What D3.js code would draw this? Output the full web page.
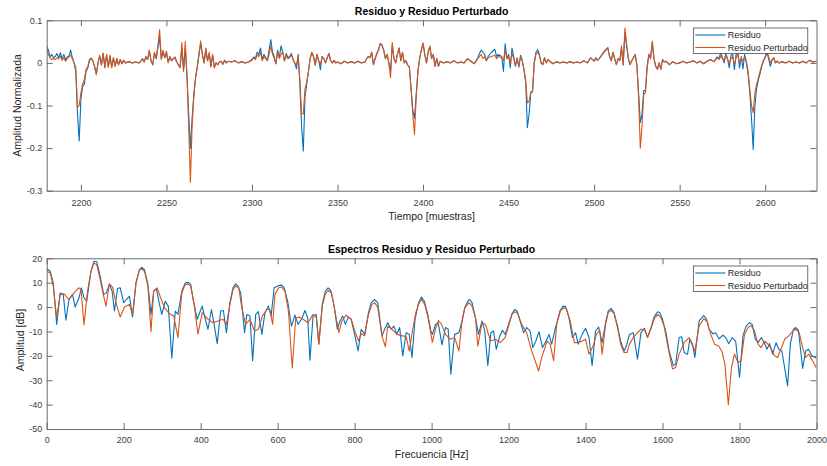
<!DOCTYPE html>
<html>
<head>
<meta charset="utf-8">
<script src="https://cdn.jsdelivr.net/npm/d3@7"></script>
<style>
  body { margin: 0; background: #fff; }
  svg text { font-family: "Liberation Sans", Arial, Helvetica, sans-serif; }
</style>
</head>
<body>
<svg id="fig" width="827" height="466"></svg>
<script>
// ---- Residuo en el tiempo (muestras) ----
const muestras = [
  2180,2181,2182,2183,2184,2185,2186,2187,2188,2189,
  2190,2191,2192,2193,2194,2195,2196,2197,2198,2199,
  2200,2201,2202,2203,2204,2205,2206,2207,2208,2209,
  2210,2211,2212,2213,2214,2215,2216,2217,2218,2219,
  2220,2221,2222,2223,2224,2225,2226,2228,2230,2232,
  2234,2235,2236,2237,2238,2239,2240,2241,2242,2243,
  2244,2245,2246,2247,2248,2249,2250,2251,2252,2253,
  2254,2255,2256,2257,2258,2259,2260,2261,2262,2263,
  2264,2265,2266,2267,2268,2269,2270,2271,2272,2273,
  2274,2275,2276,2277,2278,2279,2280,2281,2282,2283,
  2284,2285,2286,2288,2290,2292,2294,2296,2298,2300,
  2301,2302,2303,2304,2305,2306,2307,2308,2309,2310,
  2311,2312,2313,2314,2315,2316,2317,2318,2319,2320,
  2321,2322,2323,2324,2325,2326,2327,2328,2329,2330,
  2331,2332,2333,2334,2335,2336,2337,2338,2339,2340,
  2341,2342,2343,2344,2345,2346,2347,2348,2349,2350,
  2352,2354,2356,2358,2360,2362,2364,2366,2367,2368,
  2369,2370,2371,2372,2373,2374,2375,2376,2377,2378,
  2379,2380,2381,2382,2383,2384,2385,2386,2387,2388,
  2389,2390,2391,2392,2393,2394,2395,2396,2397,2398,
  2399,2400,2401,2402,2403,2404,2405,2406,2407,2408,
  2409,2410,2412,2414,2416,2418,2420,2422,2424,2426,
  2428,2430,2432,2433,2434,2435,2436,2437,2438,2440,
  2442,2443,2444,2446,2447,2448,2449,2450,2451,2452,
  2453,2454,2455,2456,2457,2458,2459,2460,2461,2462,
  2463,2464,2465,2466,2467,2468,2469,2470,2471,2472,
  2473,2474,2476,2478,2480,2482,2484,2486,2488,2490,
  2492,2494,2496,2498,2500,2501,2502,2503,2504,2505,
  2506,2507,2508,2509,2510,2511,2512,2513,2514,2515,
  2516,2517,2518,2519,2520,2521,2522,2523,2524,2525,
  2526,2527,2528,2529,2530,2531,2532,2533,2534,2535,
  2536,2537,2538,2539,2540,2541,2542,2543,2544,2546,
  2548,2550,2552,2554,2556,2558,2560,2562,2564,2566,
  2568,2570,2572,2573,2574,2575,2576,2577,2578,2579,
  2580,2581,2582,2583,2584,2585,2586,2587,2588,2589,
  2590,2591,2592,2593,2594,2595,2596,2597,2598,2599,
  2600,2601,2602,2603,2604,2605,2606,2607,2608,2610,
  2612,2614,2616,2618,2620,2622,2624,2626,2628,2630
];

const residuo = [
  0.039,0.03,0.014,0.02,0.012,0.015,0.022,0.012,0.024,0.01,
  0.02,0.008,0.014,0.016,0.03,0.012,0,-0.02,-0.12,-0.183,
  -0.085,-0.055,-0.05,-0.02,-0.012,0.006,0.01,0.004,-0.008,-0.026,
  0,0.016,-0.005,0.022,-0.01,0.018,-0.01,0.016,-0.01,0.012,
  -0.008,0.01,-0.004,0.008,-0.002,0.006,0,0.003,0,0.002,
  0,0.004,0.01,0.002,0.014,0.008,0.028,0.005,-0.004,0.022,
  0.01,0.035,0.06,0.01,0.026,0.012,0.024,0.002,0.014,0.005,
  0.01,0.012,0.002,-0.004,-0.01,0.035,-0.018,0.035,-0.03,-0.12,
  -0.2,-0.13,-0.075,-0.035,-0.01,0.02,0.045,0.02,0,0.03,
  0.005,0.022,-0.008,0.018,-0.01,0,-0.004,0.002,0.004,-0.003,
  0.006,0,0.004,0.002,0.005,0,0.003,0,0.002,0.008,
  0.014,0.01,0.025,0.02,0.035,0.008,0.02,0.012,0.006,0.03,
  0.055,0.025,0.015,-0.002,0.03,0.012,0.04,0.025,0.005,0.022,
  0.012,0.015,0.022,0.008,0,-0.014,0.02,-0.05,-0.15,-0.207,
  -0.08,-0.05,-0.02,0.01,0.024,0.014,-0.005,0.02,0.005,-0.016,
  0.015,0.01,0,0.012,0.022,0.005,0,0.006,0,0.002,
  -0.002,0.004,0,0.003,0,0.004,0,0.002,0.01,0.015,
  0.012,0.025,-0.004,0.01,0.022,0.032,0.046,0.042,0.03,0.01,
  0.02,0,-0.02,0.042,0.01,0,0.02,0.035,0.005,0.025,
  0,0.005,-0.005,-0.01,-0.06,-0.11,-0.13,-0.075,-0.02,0.01,
  0.03,0.045,0.02,0,0.025,0.038,0.01,0.02,-0.008,0.01,
  -0.008,0.004,0,0.003,0,0.005,0,0.002,0,0.01,
  0.004,-0.002,0.012,0.022,0.03,0.025,0.02,0.005,0.015,0.025,
  0.032,0.015,0.02,0.015,-0.02,0.045,0.01,0.02,-0.012,0.035,
  0.015,-0.008,0.012,-0.01,0.018,0.005,-0.016,-0.045,-0.152,-0.12,
  -0.07,-0.068,0,0.025,0.031,0.02,0,-0.004,0.012,0,
  0.008,0.004,-0.002,0.003,0,0.002,0,0.003,0,0.002,
  0,0.005,0,0.012,0.004,0.012,0.006,0.01,0.016,0.022,
  0.028,0.032,0.036,0.015,0.005,0.025,0.01,-0.004,0.01,0.005,
  0.035,-0.005,0.07,0.04,0.01,-0.004,0.005,0.012,0.02,-0.005,
  -0.07,-0.14,-0.12,-0.065,-0.065,-0.01,0.02,0.01,0.048,0.01,
  -0.008,-0.015,0,-0.015,0.008,0.002,0.004,0,-0.004,0.003,
  -0.002,0,0.004,0,0.002,0.005,0,0.004,-0.002,0.004,
  0.008,0.003,0.014,0.01,0.024,0.012,0,0.022,0.01,-0.012,
  0.018,0.02,-0.016,0.02,0.026,-0.012,0.015,-0.014,0.02,0,
  -0.025,-0.07,-0.13,-0.203,-0.1,-0.06,-0.04,-0.025,-0.008,0.005,
  0.012,0.025,0.01,-0.008,0.006,0.012,0,0.004,0,0.003,
  0,0.004,0,0.002,0,0.004,0,0.006,0.002,0.004
];

const perturbado = [
  0.032,0.02,0.012,0.008,0.01,0.008,0.012,0.01,0.016,0.006,
  0.012,0.004,0.01,0.014,0.018,0.01,0,-0.01,-0.104,-0.1,
  -0.07,-0.05,-0.04,-0.015,-0.01,0.008,0.012,0.005,-0.008,-0.028,
  0,0.018,-0.005,0.023,-0.012,0.02,-0.01,0.018,-0.012,0.012,
  -0.008,0.01,-0.005,0.008,-0.002,0.006,0,0.003,0,0.002,
  0,0.004,0.01,0.002,0.015,0.008,0.03,0.005,-0.005,0.025,
  0.01,0.04,0.078,0.008,0.03,0.012,0.028,0,0.015,0.005,
  0.01,0.014,0.002,-0.005,-0.012,0.048,-0.02,0.05,-0.03,-0.15,
  -0.28,-0.15,-0.08,-0.035,-0.01,0.02,0.052,0.02,0,0.035,
  0.005,0.025,-0.01,0.02,-0.012,0,-0.005,0.002,0.004,-0.003,
  0.006,0,0.004,0.002,0.005,0,0.003,0,0.002,0.006,
  0.012,0.008,0.018,0.015,0.025,0.005,0.015,0.01,0.005,0.02,
  0.04,0.02,0.01,-0.002,0.028,0.01,0.02,0.025,0.005,0.018,
  0.01,0.012,0.02,0.008,0,-0.005,0.015,-0.04,-0.12,-0.12,
  -0.06,-0.045,-0.02,0.01,0.025,0.015,-0.005,0.02,0.005,-0.004,
  0.015,0.01,0,0.012,0.022,0.005,0,0.006,0,0.002,
  -0.002,0.004,0,0.003,0,0.004,0,0.002,0.01,0.015,
  0.012,0.025,-0.004,0.01,0.022,0.03,0.045,0.04,0.03,0.01,
  0.02,0,-0.035,0.048,0.01,0,0.02,0.035,0.005,0.025,
  0,0.005,-0.005,-0.01,-0.06,-0.12,-0.168,-0.08,-0.02,0.01,
  0.03,0.047,0.02,0,0.025,0.04,0.01,0.02,-0.008,0.01,
  -0.008,0.004,0,0.003,0,0.005,0,0.002,0,0.01,
  0.004,-0.002,0.01,0.015,0.02,0.01,0.015,0.005,0.012,0.015,
  0.018,0.01,0.015,0.012,0.005,0.03,0.01,0.015,0,0.022,
  0.01,-0.005,0.01,-0.008,0.015,0.005,-0.016,-0.04,-0.094,-0.09,
  -0.068,-0.066,0,0.02,0.025,0.018,0,-0.004,0.012,0,
  0.008,0.004,-0.002,0.003,0,0.002,0,0.003,0,0.002,
  0,0.005,0,0.012,0.004,0.012,0.006,0.01,0.016,0.02,
  0.025,0.03,0.035,0.015,0.005,0.025,0.01,-0.004,0.01,0.005,
  0.04,-0.005,0.082,0.045,0.01,-0.004,0.005,0.012,0.02,-0.005,
  -0.08,-0.2,-0.15,-0.075,-0.07,-0.01,0.02,0.01,0.051,0.01,
  -0.008,-0.015,0,-0.015,0.008,0.002,0.004,0,-0.004,0.003,
  -0.002,0,0.004,0,0.002,0.005,0,0.004,-0.002,0.004,
  0.008,0.003,0.012,0.008,0.016,0.01,0.005,0.02,0.008,0,
  0.01,0.015,-0.004,0.012,0.02,0,0.01,0.005,0.015,0.005,
  -0.02,-0.06,-0.1,-0.117,-0.07,-0.05,-0.035,-0.02,-0.005,0.005,
  0.015,0.031,0.015,0,0.008,0.012,0,0.004,0,0.003,
  0,0.004,0,0.002,0,0.004,0,0.006,0.002,0.004
];

// ---- Espectros [Hz, dB] ----
const espectroResiduo = [
  [0,15.8],[9,14.7],[17,9.9],[26,-7.1],[35,5.8],[43,5.2],[50,-5.4],[58,3.1],[67,5.2],[74,0],
  [84,3.8],[90,7.9],[97,3.8],[104,2.4],[115,14.7],[123,18.8],[130,18.6],[139,12.6],[148,5.2],[155,5.8],
  [163,9.5],[170,6.5],[176,-1.6],[184,7.6],[191,7.9],[200,1.8],[207,3.1],[215,4.5],[223,-4.1],[232,9.9],
  [241,15.4],[247,16.3],[254,15.4],[263,9.3],[271,-3],[278,6.5],[285,7.6],[293,1.1],[299,-3],[308,2.4],
  [316,0.4],[325,-21],[334,-1.6],[341,-3],[351,6.5],[360,9.9],[367,10.2],[374,9.3],[383,1.1],[391,-5],
  [404,0.4],[410,-3.7],[419,-9.1],[428,-1],[435,-7.1],[443,-15],[452,-1.6],[459,-1.4],[467,-10.5],[476,1.8],
  [484,7.9],[491,9.5],[497,8.6],[504,5.8],[507,1.1],[514,-10.5],[520,-3],[528,-3.7],[535,-22],[543,-3],
  [550,-1.9],[559,-11.2],[567,-2.3],[576,0.4],[583,-3.7],[591,7.9],[603,8.8],[610,9],[617,7.9],[626,2.4],
  [636,-7.8],[645,-3.3],[653,-7.1],[662,-5],[671,-1.4],[678,-4.4],[684,-21.8],[692,-3.7],[700,-3],[707,-15.2],
  [716,1.1],[724,6.5],[731,7.9],[738,6.8],[747,0.4],[755,-9.1],[762,-5.7],[769,-3.7],[776,-7.1],[784,-4.1],
  [791,-5],[800,-11.2],[809,-18],[817,-9.1],[826,-11.2],[836,-2.3],[843,1.8],[852,3.1],[860,1.8],[871,-11.8],
  [878,-9.1],[886,-6.4],[895,-9.1],[902,-7.8],[910,-11.2],[917,-8.4],[925,-20],[934,-10.5],[942,-11.2],[949,-20.7],
  [957,-5],[966,1.8],[974,4.1],[981,2.4],[990,-3],[998,-9.8],[1002,-11.2],[1010,-7.1],[1017,-6.4],[1027,-15.5],
  [1036,-8.4],[1043,-9],[1050,-27.5],[1060,-11.2],[1071,-10.5],[1078,-6.4],[1086,-0.3],[1095,2.7],[1099,3.1],[1105,1.8],
  [1114,-4.4],[1122,-11.2],[1131,-5.7],[1138,-9.8],[1146,-24],[1154,-10.5],[1161,-9.8],[1168,-17.3],[1176,-12.5],[1184,-9.5],
  [1191,-11.2],[1200,-7.1],[1209,-2.7],[1216,-1],[1222,-1.6],[1230,-5.7],[1239,-10.5],[1247,-8.4],[1256,-9.8],[1263,-16.6],
  [1271,-13.9],[1279,-10.1],[1288,-16.6],[1297,-14.1],[1305,-11.2],[1312,-15.2],[1322,-8.4],[1334,-1.4],[1342,0.4],[1348,0.2],
  [1357,-4.4],[1366,-12.5],[1374,-10.5],[1381,-15.2],[1391,-11.2],[1400,-8.7],[1409,-12.5],[1417,-24],[1426,-9.8],[1434,-8.2],
  [1443,-14.6],[1452,-6.4],[1459,-1.6],[1466,-0.5],[1474,-2.3],[1483,-7.8],[1491,-13.9],[1500,-18],[1506,-16],[1514,-11.2],
  [1524,-10.5],[1535,-21.4],[1544,-10.5],[1553,-8.7],[1561,-12.5],[1570,-8.5],[1578,-4],[1587,-1.9],[1593,-2.3],[1600,-5],
  [1609,-10.5],[1617,-18],[1628,-24],[1634,-23.4],[1643,-12.5],[1650,-12.2],[1656,-18.6],[1665,-19.3],[1671,-13.2],[1678,-15.2],
  [1684,-20.7],[1695,-5.7],[1707,-3.5],[1714,-4.8],[1721,-9],[1731,-11],[1738,-10.5],[1747,-13],[1757,-11.5],[1764,-12.5],
  [1772,-15],[1781,-12.5],[1790,-14],[1800,-28.8],[1809,-11.8],[1817,-7.8],[1826,-6.4],[1833,-7.1],[1841,-13.2],[1848,-14.6],
  [1857,-12.5],[1866,-15.2],[1871,-17.3],[1878,-15],[1886,-19.3],[1895,-14.6],[1902,-17.3],[1910,-18],[1925,-32.3],[1932,-15.2],
  [1940,-9.1],[1946,-8.4],[1953,-9.5],[1964,-25.2],[1972,-18],[1979,-17.3],[1988,-20],[2000,-21]
];

const espectroPerturbado = [
  [0,14.7],[9,14],[17,8.6],[26,-4.4],[35,5.2],[45,5.4],[58,3.1],[71,5.8],[83,7.9],[89,7.3],
  [97,-7.3],[106,6.5],[115,14.7],[123,18],[130,17.4],[139,11.3],[148,4.5],[154,0.4],[163,9.5],[171,8.2],
  [180,1.8],[191,-4.1],[202,0],[215,1.1],[223,-3],[232,9.9],[241,15.4],[247,15.6],[254,14.7],[263,8.6],
  [271,-10.1],[278,6.5],[287,7.9],[296,3.8],[306,-0.3],[319,-2.7],[330,-3.7],[341,-12.5],[351,5.8],[360,9.3],
  [367,9.5],[374,8.6],[383,1.1],[393,-11.1],[404,-2.3],[419,-5],[432,-6.4],[445,-5.7],[458,-5],[467,-7.1],
  [476,1.1],[484,7.2],[491,8.6],[499,7.9],[507,-0.3],[517,-7.1],[528,-5],[540,-9.8],[550,-9.1],[560,-3.7],
  [572,-1],[580,-1],[587,-7.1],[593,5.2],[603,7.9],[610,8.2],[619,6.5],[628,-1.6],[638,-25],[647,-4.4],
  [655,-4.1],[666,-5],[679,-6.4],[692,-3],[701,-4.4],[707,-15.2],[716,0.4],[724,5.4],[731,6.8],[740,5.8],
  [748,-1],[759,-10.5],[767,-5.7],[778,-3.3],[791,-5],[802,-10.5],[810,-13.9],[817,-11],[826,-11.8],[836,-3],
  [845,1.1],[852,1.8],[860,0],[871,-11.8],[880,-16.3],[886,-7.8],[897,-9.1],[910,-11.2],[925,-11.8],[934,-12.2],
  [942,-18],[951,-9.1],[959,-2.3],[968,1.8],[974,3.1],[982,1.1],[991,-4.4],[1002,-14.5],[1010,-9],[1018,-5.5],
  [1026,-7.1],[1036,-11.2],[1049,-13.2],[1060,-12.5],[1071,-18],[1078,-7.1],[1086,-0.5],[1097,1.8],[1105,0.4],[1114,-4.4],
  [1120,-16],[1131,-6.4],[1140,-7.1],[1153,-13.9],[1166,-13.2],[1178,-14.6],[1191,-12.5],[1200,-7.8],[1209,-3],[1217,-1.9],
  [1224,-2.7],[1234,-7.1],[1247,-10.5],[1260,-18],[1269,-22],[1278,-26.2],[1286,-20.7],[1300,-13.9],[1308,-15.2],[1317,-22],
  [1325,-7.1],[1335,-1.4],[1344,-0.3],[1351,-1],[1360,-5.7],[1371,-14.6],[1381,-14.6],[1391,-13.9],[1400,-13.2],[1409,-19.3],
  [1420,-15.9],[1428,-11.2],[1437,-9.5],[1443,-19.3],[1452,-7.1],[1459,-2.3],[1466,-1.4],[1474,-2.7],[1483,-8.4],[1491,-15.2],
  [1500,-18.6],[1508,-18.6],[1514,-15.2],[1524,-12.5],[1535,-10.5],[1544,-9.1],[1553,-9.1],[1561,-12.5],[1570,-8.7],[1578,-5],
  [1587,-3],[1595,-4.1],[1604,-7.8],[1616,-18],[1626,-25.4],[1634,-24.8],[1643,-19.3],[1656,-14.6],[1669,-12.5],[1678,-15.9],
  [1684,-18],[1695,-7.8],[1707,-4.8],[1716,-6],[1725,-11],[1735,-15.2],[1746,-16],[1755,-18.5],[1762,-23.4],[1771,-40],
  [1779,-24.8],[1787,-19.3],[1796,-22.7],[1804,-22],[1813,-11.2],[1822,-8.4],[1830,-7.5],[1839,-9.8],[1848,-15.2],[1856,-16.6],
  [1865,-14],[1873,-15],[1882,-17],[1891,-20],[1899,-20.7],[1908,-17],[1918,-13],[1928,-11.8],[1938,-9.8],[1946,-9.1],
  [1955,-10.5],[1963,-15.9],[1971,-20.7],[1980,-19.3],[1989,-21.8],[2000,-25]
];

// ---- Ticks ----
const ticksTiempo = [2200, 2250, 2300, 2350, 2400, 2450, 2500, 2550, 2600];
const ticksAmplitud = [0.1, 0, -0.1, -0.2, -0.3];
const ticksFrecuencia = [0, 200, 400, 600, 800, 1000, 1200, 1400, 1600, 1800, 2000];
const ticksDb = [20, 10, 0, -10, -20, -30, -40, -50];
const nombresSeries = ["Residuo", "Residuo Perturbado"];

const COLORES = ["#0072BD", "#D95319"];
const svg = d3.select("#fig");

function panel(cfg) {
  const { left, top, width, height } = cfg;
  const g = svg.append("g").attr("transform", `translate(${left},${top})`);
  const x = d3.scaleLinear().domain(cfg.xDomain).range([0, width]);
  const y = d3.scaleLinear().domain(cfg.yDomain).range([height, 0]);

  const clipId = "clip-" + cfg.id;
  g.append("clipPath").attr("id", clipId)
    .append("rect").attr("width", width).attr("height", height);

  const line = d3.line().x(d => x(d[0])).y(d => y(d[1]));
  const lines = g.append("g").attr("clip-path", `url(#${clipId})`);
  cfg.series.forEach((s, i) => {
    lines.append("path").datum(s)
      .attr("fill", "none")
      .attr("stroke", COLORES[i])
      .attr("stroke-width", 1.1)
      .attr("stroke-linejoin", "round")
      .attr("d", line);
  });

  const tick = 6;
  const styleAxis = sel => {
    sel.select(".domain").attr("stroke", "#6a6a6a").attr("stroke-width", 1);
    sel.selectAll(".tick line").attr("stroke", "#6a6a6a");
    sel.selectAll(".tick text").attr("fill", "#404040").style("font-size", "9px");
  };

  g.append("g").attr("transform", `translate(0,${height})`)
    .call(d3.axisBottom(x).tickValues(cfg.xTicks).tickSizeInner(-tick).tickSizeOuter(0)
      .tickPadding(cfg.xPad).tickFormat(d3.format("d")))
    .call(styleAxis);
  g.append("g")
    .call(d3.axisTop(x).tickValues(cfg.xTicks).tickSizeInner(-tick).tickSizeOuter(0).tickFormat(""))
    .call(styleAxis);
  g.append("g")
    .call(d3.axisLeft(y).tickValues(cfg.yTicks).tickSizeInner(-tick).tickSizeOuter(0)
      .tickPadding(4.5).tickFormat(cfg.yFormat))
    .call(styleAxis);
  g.append("g").attr("transform", `translate(${width},0)`)
    .call(d3.axisRight(y).tickValues(cfg.yTicks).tickSizeInner(-tick).tickSizeOuter(0).tickFormat(""))
    .call(styleAxis);
  g.selectAll(".tick text").text(function () { return this.textContent.replace("−", "-"); });

  // title
  g.append("text").attr("x", width / 2).attr("y", cfg.titleY - top)
    .attr("text-anchor", "middle").style("font-size", "10.5px").style("font-weight", "bold")
    .attr("fill", "#000").text(cfg.title);
  // x label
  g.append("text").attr("x", width / 2).attr("y", cfg.xLabelY - top)
    .attr("text-anchor", "middle").style("font-size", "10.5px").attr("fill", "#262626")
    .text(cfg.xLabel);
  // y label
  g.append("text")
    .attr("transform", `translate(${cfg.yLabelX - left},${cfg.yLabelCY - top}) rotate(-90)`)
    .attr("text-anchor", "middle").style("font-size", "10.5px").attr("fill", "#262626")
    .text(cfg.yLabel);

  // legend
  const lg = svg.append("g").attr("transform", `translate(${cfg.legend[0]},${cfg.legend[1]})`);
  lg.append("rect").attr("width", 114.5).attr("height", 25.5)
    .attr("fill", "#fff").attr("stroke", "#333").attr("stroke-width", 0.7);
  nombresSeries.forEach((n, i) => {
    const yy = 7 + i * 12.5;
    lg.append("line").attr("x1", 2).attr("x2", 32).attr("y1", yy).attr("y2", yy)
      .attr("stroke", COLORES[i]).attr("stroke-width", 1.1);
    lg.append("text").attr("x", 34.5).attr("y", yy + 3.2)
      .style("font-size", "9px").attr("fill", "#262626").text(n);
  });
}

panel({
  id: "tiempo",
  left: 46.7, top: 20.3, width: 769.8, height: 170.4,
  xDomain: [2180, 2630], yDomain: [-0.3, 0.1],
  xTicks: ticksTiempo, yTicks: ticksAmplitud,
  yFormat: d => (d === 0 ? "0" : d3.format(".1f")(d)),
  xPad: 8.5,
  series: [
    muestras.map((m, i) => [m, residuo[i]]),
    muestras.map((m, i) => [m, perturbado[i]])
  ],
  title: "Residuo y Residuo Perturbado", titleY: 14.8,
  xLabel: "Tiempo [muestras]", xLabelY: 220,
  yLabel: "Amplitud Normalizada", yLabelX: 21, yLabelCY: 105.5,
  legend: [693.3, 28]
});

panel({
  id: "espectro",
  left: 46.7, top: 258.3, width: 769.8, height: 170.7,
  xDomain: [0, 2000], yDomain: [-50, 20],
  xTicks: ticksFrecuencia, yTicks: ticksDb,
  yFormat: d3.format("d"),
  xPad: 7.5,
  series: [espectroResiduo, espectroPerturbado],
  title: "Espectros Residuo y Residuo Perturbado", titleY: 252.8,
  xLabel: "Frecuencia [Hz]", xLabelY: 458,
  yLabel: "Amplitud [dB]", yLabelX: 24, yLabelCY: 340,
  legend: [693.3, 266]
});
</script>
</body>
</html>
